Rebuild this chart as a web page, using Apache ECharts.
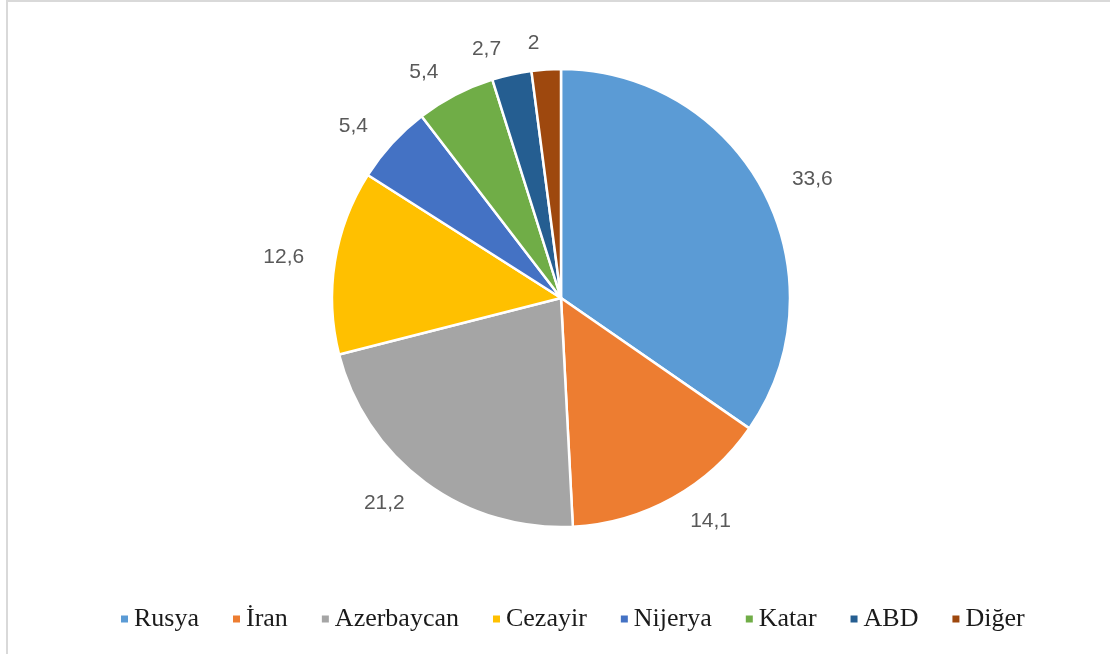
<!DOCTYPE html>
<html>
<head>
<meta charset="utf-8">
<style>
html,body{margin:0;padding:0;background:#fff;}
#chart{width:1110px;height:654px;}
</style>
<script src="https://cdn.jsdelivr.net/npm/echarts@6/dist/echarts.min.js"></script>
</head>
<body>
<div id="chart"></div>
<script>
const categories = ['Rusya', 'İran', 'Azerbaycan', 'Cezayir', 'Nijerya', 'Katar', 'ABD', 'Diğer'];
const values = [33.6, 14.1, 21.2, 12.6, 5.4, 5.4, 2.7, 2];
const colors = ['#5B9BD5', '#ED7D31', '#A5A5A5', '#FFC000', '#4472C4', '#70AD47', '#255E91', '#9E480E'];

const chart = echarts.init(document.getElementById('chart'), null, {renderer: 'canvas'});
chart.setOption({
  animation: false,
  backgroundColor: '#fff',
  graphic: [
    {type: 'line', shape: {x1: 7, y1: 0, x2: 7, y2: 654}, style: {stroke: '#d9d9d9', lineWidth: 2}},
    {type: 'line', shape: {x1: 7, y1: 1, x2: 1110, y2: 1}, style: {stroke: '#d9d9d9', lineWidth: 2}}
  ],
  legend: {
    bottom: 17,
    left: 114,
    icon: 'rect',
    itemWidth: 9,
    itemHeight: 9,
    itemGap: 32,
    textStyle: {fontFamily: 'Liberation Serif', fontSize: 26, color: '#1a1a1a'},
    data: categories
  },
  series: [{
    type: 'pie',
    center: [561, 298],
    radius: [0, 229],
    startAngle: 90,
    clockwise: true,
    avoidLabelOverlap: false,
    label: {
      show: true,
      position: 'outside',
      formatter: p => String(p.value).replace('.', ','),
      fontFamily: 'Liberation Sans',
      fontSize: 21,
      color: '#595959'
    },
    labelLine: {show: false, length: 26, length2: 0},
    itemStyle: {borderColor: '#fff', borderWidth: 2.5},
    emphasis: {disabled: true},
    data: categories.map((c, i) => ({name: c, value: values[i], itemStyle: {color: colors[i]}}))
  }]
});
</script>
</body>
</html>
